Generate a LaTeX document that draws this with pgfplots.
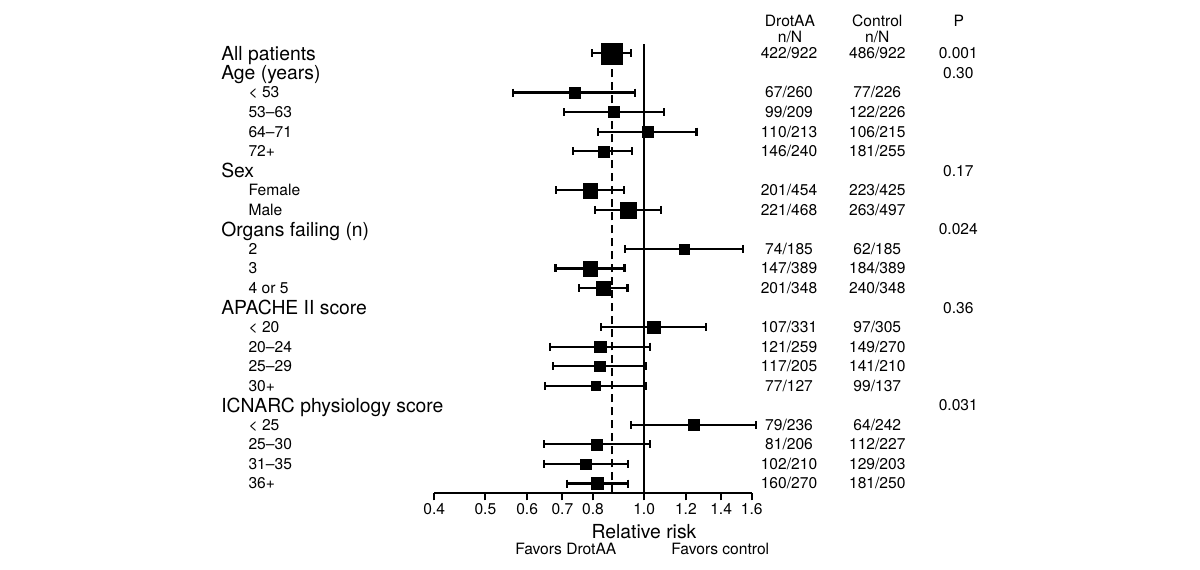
\documentclass[border=0pt]{standalone}
\usepackage{fontspec}
\setmainfont{TeX Gyre Heros}
\usepackage{pgfplots}
\pgfplotsset{compat=1.18}

\newcommand\lbl{\fontsize{11.7}{13}\selectfont}
\newcommand\hdr{\fontsize{14.5}{16}\selectfont}

\begin{document}
\begin{tikzpicture}[x=0.75pt, y=0.75pt,
  declare function={ry(\i)=570-53.3-19.55*(\i-1);}]
\useasboundingbox (0,0) rectangle (1200,570);

\begin{axis}[
  at={(325.73pt,57.53pt)}, anchor=south west,
  scale only axis, width=238.05pt, height=337.24pt,
  xmode=log, xmin=0.4, xmax=1.6, ymin=0.5, ymax=23.5,
  axis x line*=bottom, hide y axis,
  xtick={0.4,0.5,0.6,0.7,0.8,1.0,1.2,1.4,1.6},
  xticklabels={0.4,0.5,0.6,0.7,0.8,1.0,1.2,1.4,1.6},
  minor xtick={},
  xtick pos=bottom, tick align=outside, major tick length=5.25pt,
  x axis line style={line width=1.5pt},
  every tick/.style={black, line width=1.5pt},
  xticklabel style={font=\lbl, inner sep=0pt, yshift=-2pt},
  clip=false,
]
% reference lines: no effect and overall estimate
\draw[line width=1.5pt] (axis cs:1,0.5) -- (axis cs:1,23.5);
\draw[line width=1.5pt, dash pattern=on 6pt off 3.75pt] (axis cs:0.868,0.5) -- (axis cs:0.868,23.5);

% confidence intervals
\addplot[black, /tikz/line width=1.6pt, mark=|, mark size=3pt,
  mark options={solid, line width=1.6pt}, unbounded coords=jump] table {
x y
0.798 23
0.944 23
nan nan
0.565 21
0.961 21
nan nan
0.706 20
1.090 20
nan nan
0.819 19
1.257 19
nan nan
0.733 18
0.949 18
nan nan
0.681 16
0.916 16
nan nan
0.806 15
1.076 15
nan nan
0.919 13
1.541 13
nan nan
0.679 12
0.918 12
nan nan
0.753 11
0.930 11
nan nan
0.828 9
1.311 9
nan nan
0.664 8
1.027 8
nan nan
0.671 7
1.010 7
nan nan
0.648 6
1.010 6
nan nan
0.945 4
1.633 4
nan nan
0.645 3
1.027 3
nan nan
0.646 2
0.931 2
nan nan
0.713 1
0.931 1
};

% point estimates, square size ~ weight
\addplot[scatter, only marks, mark=square*, line width=0.1pt,
  scatter/use mapped color={draw=black, fill=black},
  visualization depends on={\thisrow{s} \as \sz},
  scatter/@pre marker code/.append style={/tikz/mark size=\sz},
  point meta=explicit] table[x=rr, y=y, meta=s] {
rr y s
0.868 23 8.06
0.738 21 4.13
0.877 20 4.13
1.015 19 4.13
0.836 18 4.13
0.790 16 5.5
0.932 15 6.0
1.191 13 4.0
0.790 12 5.5
0.836 11 5.25
1.041 9 4.75
0.826 8 4.4
0.823 7 3.85
0.810 6 3.5
1.242 4 4.13
0.814 3 4.13
0.775 2 4.0
0.814 1 4.5
};
\end{axis}

% row labels
\foreach \i/\t in {1/All patients,2/Age (years),7/Sex,10/Organs failing (n),14/APACHE II score,19/ICNARC physiology score}
  \node[anchor=base west, font=\hdr, inner sep=0pt] at (221,{ry(\i)-7}) {\t};
\foreach \i/\t in {3/< 53,4/53–63,5/64–71,6/72+,8/Female,9/Male,11/2,12/3,13/4 or 5,15/< 20,16/20–24,17/25–29,18/30+,20/< 25,21/25–30,22/31–35,23/36+}
  \node[anchor=base west, font=\lbl, inner sep=0pt] at (248.3,{ry(\i)-5.6}) {\t};

% column headers
\node[anchor=base, font=\lbl, inner sep=0pt] at (790,{570-20.7-5.6}) {DrotAA};
\node[anchor=base, font=\lbl, inner sep=0pt] at (790,{570-37-5.6}) {n/N};
\node[anchor=base, font=\lbl, inner sep=0pt] at (877.3,{570-20.7-5.6}) {Control};
\node[anchor=base, font=\lbl, inner sep=0pt] at (877.3,{570-37-5.6}) {n/N};
\node[anchor=base, font=\lbl, inner sep=0pt] at (958.7,{570-20.7-5.6}) {P};

% events / patients
\foreach \i/\a/\b/\c/\d in {1/422/922/486/922,3/67/260/77/226,4/99/209/122/226,5/110/213/106/215,6/146/240/181/255,
  8/201/454/223/425,9/221/468/263/497,11/74/185/62/185,12/147/389/184/389,13/201/348/240/348,
  15/107/331/97/305,16/121/259/149/270,17/117/205/141/210,18/77/127/99/137,
  20/79/236/64/242,21/81/206/112/227,22/102/210/129/203,23/160/270/181/250}{
  \node[anchor=base, font=\lbl, inner sep=0pt] at (789,{ry(\i)-5.6}) {\a/\b};
  \node[anchor=base, font=\lbl, inner sep=0pt] at (877.3,{ry(\i)-5.6}) {\c/\d};
}

% interaction p-values
\foreach \i/\p in {1/0.001,2/0.30,7/0.17,10/0.024,14/0.36,19/0.031}
  \node[anchor=base, font=\lbl, inner sep=0pt] at (958.3,{ry(\i)-5.6}) {\p};

% axis caption
\node[anchor=base, font=\hdr, inner sep=0pt] at (644,{570-531.7-7}) {Relative risk};
\node[anchor=base, font=\lbl, inner sep=0pt] at (565.8,{570-549.3-5.6}) {Favors DrotAA};
\node[anchor=base, font=\lbl, inner sep=0pt] at (720.3,{570-549.3-5.6}) {Favors control};
\end{tikzpicture}
\end{document}
